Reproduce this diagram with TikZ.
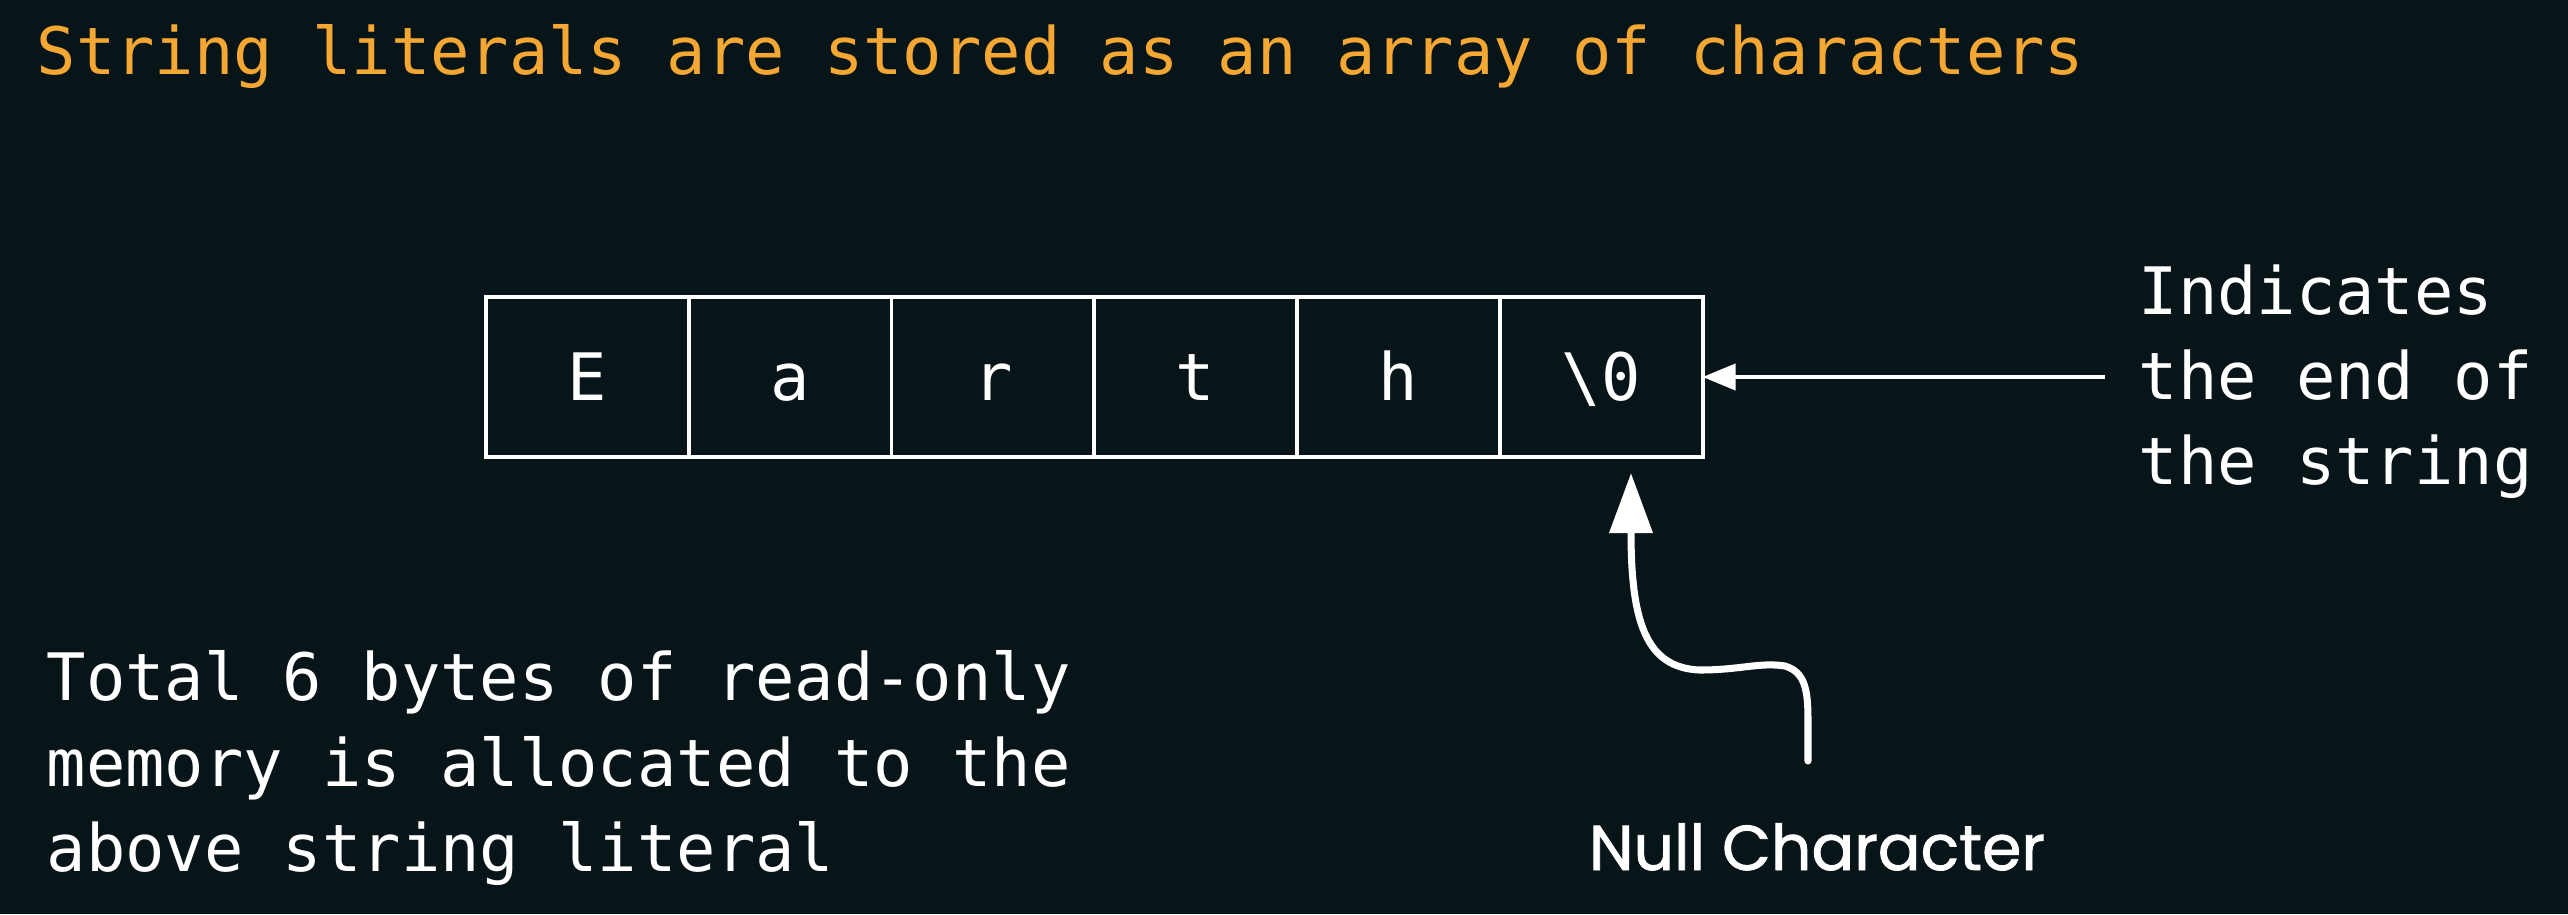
\documentclass[tikz,border=0pt]{standalone}
\usepackage{fontspec}
\newfontfamily\codefont{DejaVu Sans Mono}
\newfontfamily\labelfont[FakeBold=1.3]{Poppins}
\usetikzlibrary{arrows.meta,positioning}
\definecolor{bgcol}{HTML}{071518}
\definecolor{titlecol}{HTML}{F5A733}
\begin{document}
\begin{tikzpicture}[x=0.01cm,y=-0.01cm,
  codetext/.style={font=\codefont\fontsize{18.6}{24.2}\selectfont, text=white, inner sep=0pt, align=left},
  titletext/.style={codetext, text=titlecol},
  cellbox/.style={draw=white, line width=1.1pt, minimum width=2.0267cm, minimum height=1.6cm,
    inner sep=0pt, outer sep=0pt, text height=13.6pt, text depth=0pt, text=white,
    font=\codefont\fontsize{18.6}{24.2}\selectfont},
  pointer/.style={draw=white, line width=1.2pt, -{Triangle[length=0.33cm,width=0.26cm]}},
  nullpointer/.style={draw=white, line width=2pt, line cap=round, -{Triangle[length=0.6cm,width=0.42cm]}},
  labeltext/.style={font=\labelfont\fontsize{18}{22}\selectfont, text=white, inner sep=0pt}
]
\fill[bgcol] (0,0) rectangle (2568,914);
\useasboundingbox (0,0) rectangle (2568,914);

\node[titletext, anchor=base west] (title) at (36,74) {String literals are stored as an array of characters};

\node[cellbox] (c1) at (587.3,377) {E};
\node[cellbox, anchor=west] (c2) at (c1.east) {a};
\node[cellbox, anchor=west] (c3) at (c2.east) {r};
\node[cellbox, anchor=west] (c4) at (c3.east) {t};
\node[cellbox, anchor=west] (c5) at (c4.east) {h};
\node[cellbox, anchor=west] (c6) at (c5.east) {\textbackslash 0};

\node[codetext, anchor=west] (endnote) at (2138,382) {Indicates\\the end of\\the string};
\coordinate (endstart) at (2105,377);
\draw[pointer] (endstart) -- (c6.east);

\node[codetext, anchor=west] (memnote) at (46,768) {Total 6 bytes of read-only\\memory is allocated to the\\above string literal};

\node[labeltext, anchor=base] (nulllabel) at (1817,870) {Null Character};
\coordinate (nullstart) at (1808,761);
\coordinate (nulltip) at (1631,473);
\draw[nullpointer] (nullstart) -- (1808,720)
  .. controls (1808,690) and (1805,672) .. (1785,666)
  .. controls (1760,662) and (1740,670) .. (1700,670)
  .. controls (1645,668) and (1631,620) .. (nulltip);
\end{tikzpicture}
\end{document}
